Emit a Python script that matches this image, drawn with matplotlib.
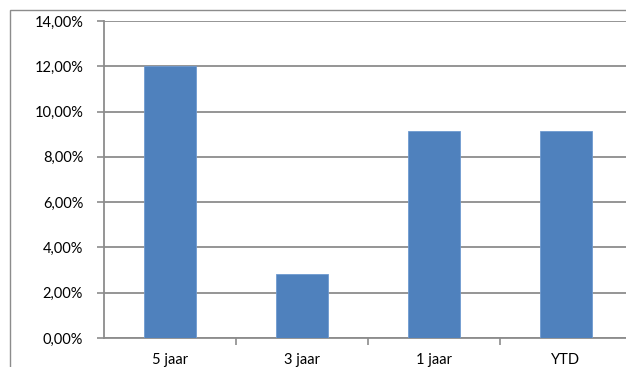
import matplotlib
matplotlib.use("Agg")
import matplotlib.pyplot as plt
from matplotlib.patches import Rectangle
from matplotlib.ticker import FuncFormatter, MultipleLocator

categories = ["5 jaar", "3 jaar", "1 jaar", "YTD"]
values = [12.0, 2.83, 9.14, 9.14]

W, H = 626, 367
fig = plt.figure(figsize=(W / 100, H / 100), dpi=100)
plt.rcParams['font.family'] = ['Lato', 'DejaVu Sans']

# outer chart border
fig.patches.append(Rectangle((10 / W, -0.1), 2, (H - 10) / H + 0.1, transform=fig.transFigure,
                             fill=False, edgecolor='#8c8c8c', linewidth=1.0))

left, right = 104 / W, 632 / W
bottom, top = (H - 338) / H, (H - 21) / H
ax = fig.add_axes([left, bottom, right - left, top - bottom])

x = list(range(len(categories)))
ax.bar(x, values, width=0.4, color='#4F81BD', edgecolor='#6f9ad0', linewidth=0.6, zorder=3)

ax.set_xlim(-0.5, len(categories) - 0.5)
ax.set_ylim(0, 14)
ax.yaxis.set_major_locator(MultipleLocator(2))
ax.yaxis.set_major_formatter(FuncFormatter(lambda v, p: f"{v:.2f}".replace('.', ',') + '%'))
ax.grid(axis='y', color='#8c8c8c', linewidth=1.3, zorder=0)

ax.set_xticks(x)
ax.set_xticklabels(categories)
ax.set_xticks([i + 0.5 for i in range(len(categories) - 1)], minor=True)
ax.tick_params(axis='x', which='major', length=0, pad=11, labelsize=10.5, colors='#000000')
ax.tick_params(axis='x', which='minor', length=5, width=1.2, color='#8c8c8c', direction='out')
ax.tick_params(axis='y', length=5, width=1.2, color='#8c8c8c', pad=10, labelsize=10.5)

for s in ['top', 'right']:
    ax.spines[s].set_visible(False)
for s in ['left', 'bottom']:
    ax.spines[s].set_color('#8c8c8c')
    ax.spines[s].set_linewidth(1.3)

fig.savefig("out.png", dpi=100)
